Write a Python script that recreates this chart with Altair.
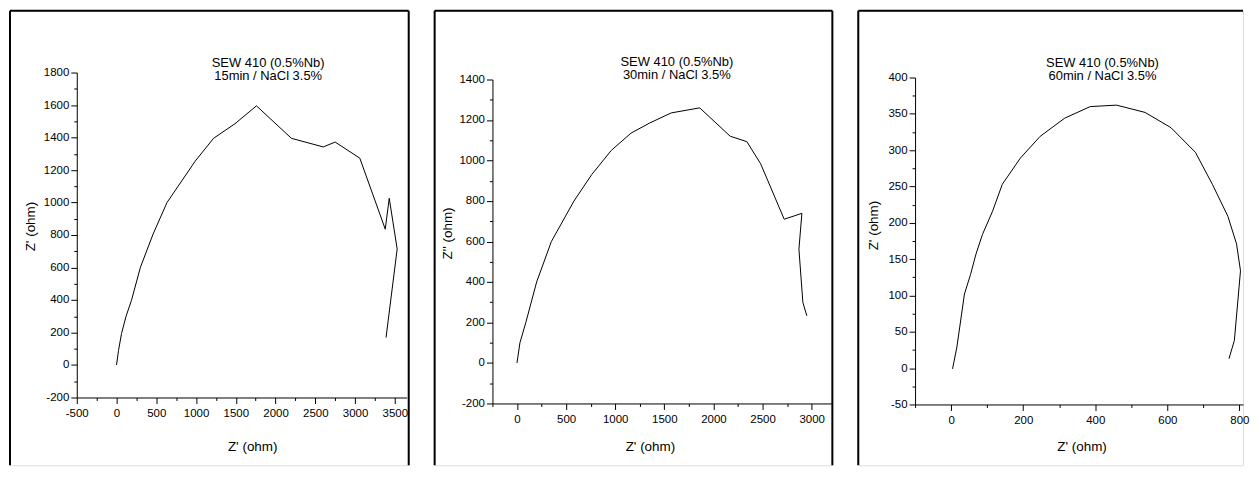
import altair as alt
import pandas as pd

FONT = "Liberation Sans, Arial, sans-serif"

# ---- data ----
title_main = "SEW 410 (0.5%Nb)"
subtitles = ["15min / NaCl 3.5%", "30min / NaCl 3.5%", "60min / NaCl 3.5%"]

x15 = [0, 25, 63, 120, 188, 301, 460, 635, 990, 1220, 1490, 1760, 2200, 2600, 2750, 3060, 3380, 3430, 3530, 3390]
y15 = [0, 90, 194, 300, 398, 602, 806, 1000, 1255, 1395, 1485, 1595, 1395, 1342, 1372, 1273, 836, 1026, 714, 169]

x30 = [0, 30, 90, 200, 350, 580, 760, 960, 1160, 1350, 1570, 1860, 2170, 2340, 2480, 2720, 2900, 2870, 2910, 2950]
y30 = [0, 100, 200, 400, 600, 800, 930, 1050, 1135, 1185, 1235, 1260, 1120, 1093, 984, 710, 739, 562, 299, 233]

x60 = [4, 16, 37, 54, 69, 87, 115, 142, 192, 247, 315, 386, 459, 538, 610, 678, 725, 768, 792, 803, 786, 771]
y60 = [-1, 29, 102, 129, 157, 184, 216, 253, 289, 319, 344, 360, 362, 352, 331, 297, 253, 209, 171, 134, 38, 13]

x_titles = ["Z' (ohm)", "Z' (ohm)", "Z' (ohm)"]
y_titles = ["Z' (ohm)", "Z'' (ohm)", "Z' (ohm)"]

# axis tick values (major labelled, minor unlabelled)
xt15 = list(range(-500, 3501, 250))
yt15 = list(range(-200, 1801, 100))
xt30 = list(range(-250, 3001, 250))
yt30 = list(range(-200, 1401, 100))
xt60 = list(range(-100, 801, 100))
yt60 = list(range(-50, 401, 25))

H = 456  # frame (view) height


def make_axis(orient, vals, major, title, tx, ty, pad, offset):
    test = f"datum.value % {major} === 0"
    return alt.Axis(
        orient=orient,
        offset=offset,
        values=vals,
        labelExpr=f"{test} ? '' + datum.value : ''",
        tickSize={"condition": {"test": test, "value": 6}, "value": 3},
        tickColor="black",
        tickWidth=1,
        domainColor="black",
        domainWidth=1,
        grid=False,
        labelColor="black",
        labelFont=FONT,
        labelFontSize=11.5,
        labelPadding=pad,
        labelFlush=False,
        labelOverlap=False,
        title=title,
        titleFont=FONT,
        titleFontSize=13.5,
        titleFontWeight="normal",
        titleColor="black",
        titleX=tx,
        titleY=ty,
        titleAlign="center",
        titleBaseline="middle",
    )


def panel(xs, ys, sub, xdom, ydom, w, xrange, yrange, xt, xmaj, yt, ymaj,
          xtitle, ytitle, xtpos, ytpos, tpos, right_edge=True):
    df = pd.DataFrame({"x": xs, "y": ys, "i": list(range(len(xs)))})
    line = alt.Chart(df).mark_line(color="black", strokeWidth=1, clip=False).encode(
        x=alt.X("x:Q", scale=alt.Scale(domain=xdom, range=xrange, nice=False, zero=False),
                axis=make_axis("bottom", xt, xmaj, xtitle, xtpos[0], xtpos[1], 4,
                               yrange[0] - H)),
        y=alt.Y("y:Q", scale=alt.Scale(domain=ydom, range=yrange, nice=False, zero=False),
                axis=make_axis("left", yt, ymaj, ytitle, ytpos[0], ytpos[1], 2,
                               -xrange[0])),
        order="i:Q",
    )
    one = alt.Data(values=[{"k": 0}])
    layers = [line]
    # frame around the panel (open at the bottom, as in the cropped figure)
    layers.append(alt.Chart(one).mark_rule(color="black", strokeWidth=2).encode(
        x=alt.value(0), y=alt.value(0), y2=alt.value(H)))
    layers.append(alt.Chart(one).mark_rule(color="black", strokeWidth=2).encode(
        x=alt.value(0), x2=alt.value(w), y=alt.value(0)))
    if right_edge:
        layers.append(alt.Chart(one).mark_rule(color="black", strokeWidth=2).encode(
            x=alt.value(w), y=alt.value(0), y2=alt.value(H)))
    layers.append(alt.Chart(one).mark_text(
        font=FONT, fontSize=13, lineHeight=13, align="center", baseline="alphabetic",
        color="black", lineBreak="\n").encode(
        x=alt.value(tpos[0]), y=alt.value(tpos[1]),
        text=alt.value(title_main + "\n" + sub)))
    return alt.layer(*layers).properties(width=w, height=H)


p1 = panel(x15, y15, subtitles[0], [-500, 3650], [-200, 1800], 400,
           [67, 398], [388, 62], xt15, 500, yt15, 200, x_titles[0], y_titles[0],
           (243, 49), (-46, 216), (259, 56))
p2 = panel(x30, y30, subtitles[1], [-250, 3200], [-200, 1400], 399,
           [58, 398], [394, 69], xt30, 500, yt30, 200, x_titles[1], y_titles[1],
           (216, 43), (-45, 223), (243, 55))
p3 = panel(x60, y60, subtitles[2], [-100, 810], [-50, 400], 386,
           [57, 386], [395, 67], xt60, 200, yt60, 50, x_titles[2], y_titles[2],
           (224, 42), (-42, 215), (245, 56), right_edge=False)

chart = alt.hconcat(p1, p2, p3, spacing=26, bounds="flush").properties(
    padding=0).configure_view(stroke=None).configure(background="white")

chart.save("out.html", embed_options={"renderer": "svg", "actions": False})
